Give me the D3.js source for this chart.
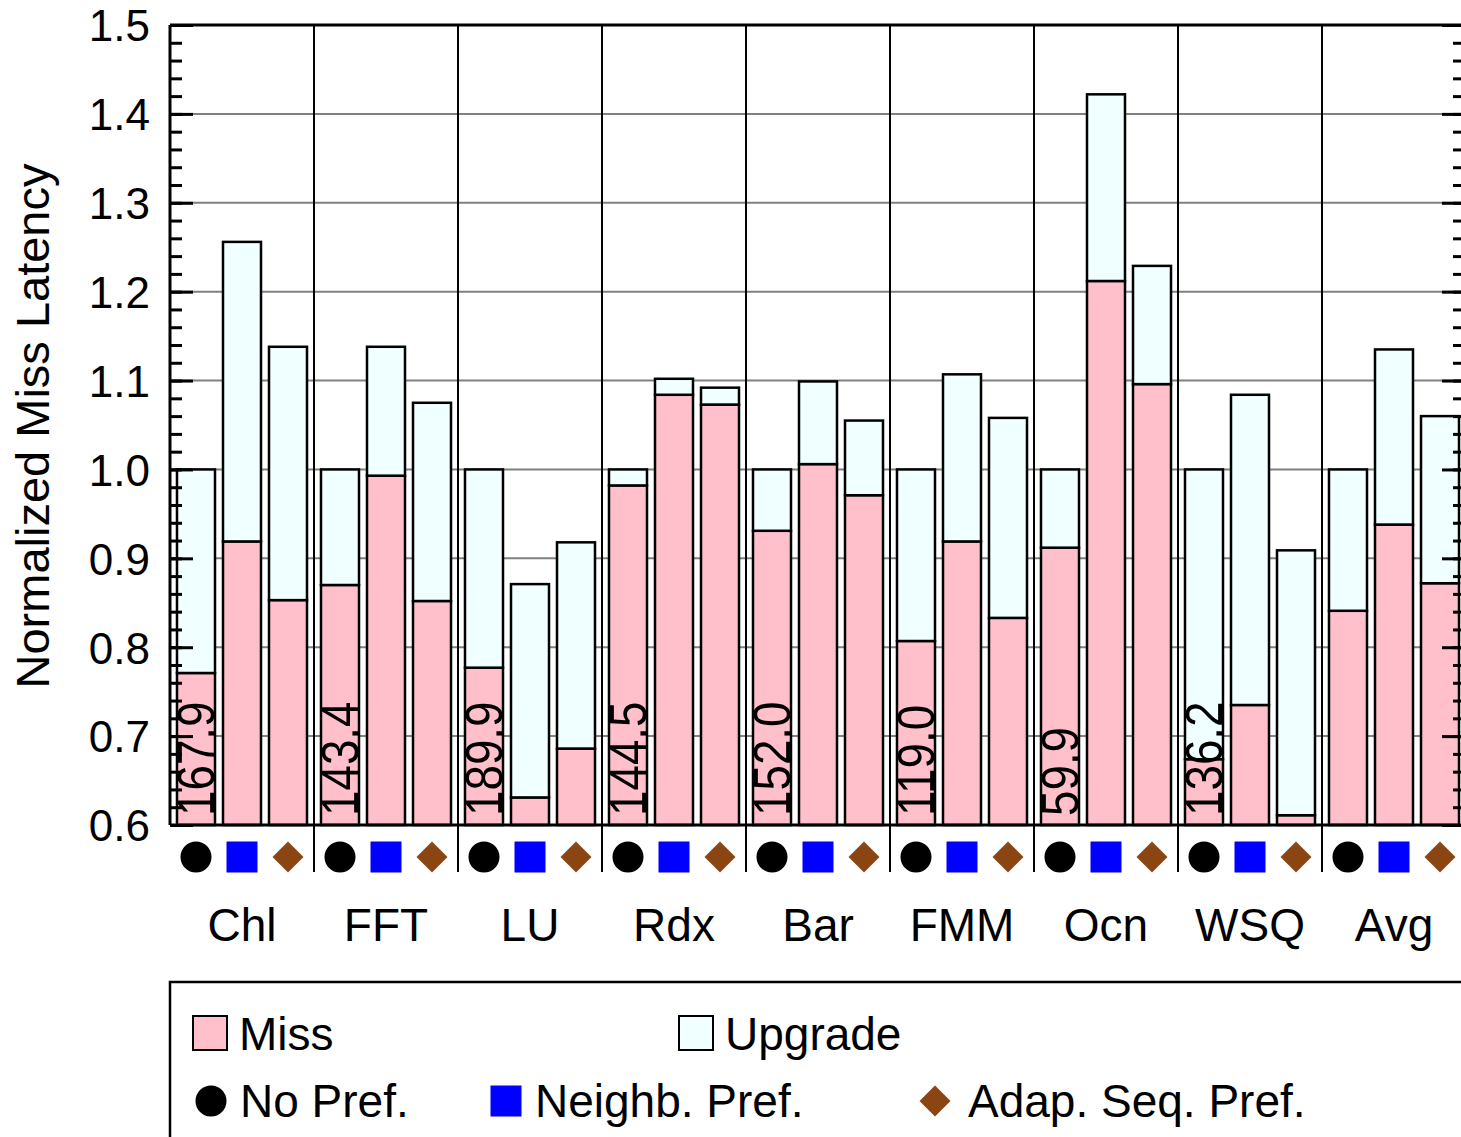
<!DOCTYPE html>
<html>
<head>
<meta charset="utf-8">
<script src="https://cdn.jsdelivr.net/npm/d3@7/dist/d3.min.js"></script>
<style>
  html, body { margin: 0; padding: 0; background: #fff; }
  svg { display: block; }
  text { font-family: "Liberation Sans", Arial, Helvetica, sans-serif; fill: #000; }
</style>
</head>
<body>
<svg id="chart" width="1461" height="1137"></svg>
<script>
// Benchmarks and prefetching schemes
const categories = ["Chl", "FFT", "LU", "Rdx", "Bar", "FMM", "Ocn", "WSQ", "Avg"];
const schemes = ["No Pref.", "Neighb. Pref.", "Adap. Seq. Pref."];

// Miss component (bottom of each stack) and total height (Miss + Upgrade)
const missNoPref  = [0.771, 0.870, 0.777, 0.982, 0.931, 0.807, 0.912, 0.674, 0.841];
const totalNoPref = [1.000, 1.000, 1.000, 1.000, 1.000, 1.000, 1.000, 1.000, 1.000];
const missNeighb  = [0.919, 0.993, 0.631, 1.084, 1.006, 0.919, 1.212, 0.735, 0.938];
const totalNeighb = [1.256, 1.138, 0.871, 1.102, 1.099, 1.107, 1.422, 1.084, 1.135];
const missAdap    = [0.853, 0.852, 0.686, 1.073, 0.971, 0.833, 1.096, 0.611, 0.872];
const totalAdap   = [1.138, 1.075, 0.918, 1.092, 1.055, 1.058, 1.229, 0.909, 1.060];

// Absolute latency (cycles) of the No Pref. configuration
const baseLatency = ["167.9", "143.4", "189.9", "144.5", "152.0", "119.0", "59.9", "136.2", null];

const yMajorTicks = [0.6, 0.7, 0.8, 0.9, 1.0, 1.1, 1.2, 1.3, 1.4, 1.5];
const yMinorTicks = d3.range(0, 46).map(i => 0.6 + i * 0.02);

const components = ["Miss", "Upgrade"];
const compColor = { Miss: "#FFC0CB", Upgrade: "#F0FFFF" };
const markerColor = { "No Pref.": "#000000", "Neighb. Pref.": "#0000FF", "Adap. Seq. Pref.": "#8B4513" };
const markerShape = { "No Pref.": d3.symbolCircle, "Neighb. Pref.": d3.symbolSquare, "Adap. Seq. Pref.": d3.symbolSquare };
const markerRotate = { "No Pref.": 0, "Neighb. Pref.": 0, "Adap. Seq. Pref.": 45 };

const missBy = [missNoPref, missNeighb, missAdap];
const totalBy = [totalNoPref, totalNeighb, totalAdap];

const rows = [];
categories.forEach((c, i) => {
  schemes.forEach((s, j) => {
    rows.push({ cat: c, scheme: s, miss: missBy[j][i], total: totalBy[j][i], label: j === 0 ? baseLatency[i] : null });
  });
});

const svg = d3.select("#chart");
const plotLeft = 170, plotRight = 1466, plotTop = 25, plotBottom = 825;

const x = d3.scaleBand().domain(categories).range([plotLeft, plotRight]).paddingInner(0).paddingOuter(0);
const xs = d3.scaleBand().domain(schemes).range([0, x.bandwidth()])
  .paddingInner(8 / 46).paddingOuter(0.152).align(0.5);
const y = d3.scaleLinear().domain([0.6, 1.5]).range([plotBottom, plotTop]);

function markerSize(s) {
  if (s === "No Pref.") return Math.PI * 15.5 * 15.5;
  if (s === "Neighb. Pref.") return 31 * 31;
  return 2 * 15.5 * 15.5; // square turned 45°, half-diagonal ~15.5
}
function markerPath(s) {
  return d3.symbol().type(markerShape[s]).size(markerSize(s))();
}

// Horizontal gridlines
svg.append("g")
  .selectAll("line")
  .data(yMajorTicks.filter(v => v > 0.6 && v < 1.5))
  .join("line")
  .attr("x1", plotLeft).attr("x2", plotRight)
  .attr("y1", d => y(d)).attr("y2", d => y(d))
  .attr("stroke", "#808080").attr("stroke-width", 2);

// Group separators (extend down through the marker row)
svg.append("g")
  .selectAll("line")
  .data(categories.slice(1))
  .join("line")
  .attr("x1", d => x(d)).attr("x2", d => x(d))
  .attr("y1", plotTop).attr("y2", 872)
  .attr("stroke", "#000").attr("stroke-width", 2);

// Stacked bars
const barG = svg.append("g");
rows.forEach(r => {
  const bx = x(r.cat) + xs(r.scheme);
  const w = xs.bandwidth();
  const stack = [
    { key: "Miss", y0: 0.6, y1: r.miss },
    { key: "Upgrade", y0: r.miss, y1: r.total }
  ];
  stack.forEach(s => {
    barG.append("rect")
      .attr("x", bx).attr("width", w)
      .attr("y", y(s.y1)).attr("height", y(s.y0) - y(s.y1))
      .attr("fill", compColor[s.key])
      .attr("stroke", "#000").attr("stroke-width", 2.5);
  });
});

// Rotated absolute-latency labels inside the first bar of each group
svg.append("g")
  .selectAll("text")
  .data(rows.filter(r => r.label))
  .join("text")
  .attr("transform", r => `translate(${x(r.cat) + xs(r.scheme) + xs.bandwidth() - 1},816) rotate(-90) scale(0.88,1)`)
  .attr("font-size", 52)
  .attr("text-anchor", "start")
  .text(r => r.label);

// Left axis with inward ticks
const yAxisMajor = d3.axisLeft(y).tickValues(yMajorTicks).tickSize(-23).tickPadding(20).tickFormat(d3.format(".1f"));
const yAxisMinor = d3.axisLeft(y).tickValues(yMinorTicks).tickSize(-12).tickFormat("");
const gyMinor = svg.append("g").attr("transform", `translate(${plotLeft},0)`).call(yAxisMinor);
const gy = svg.append("g").attr("transform", `translate(${plotLeft},0)`).call(yAxisMajor);
[gy, gyMinor].forEach(g => {
  g.select(".domain").remove();
  g.selectAll(".tick line").attr("stroke", "#000").attr("stroke-width", 3);
});
gy.selectAll(".tick text")
  .attr("font-size", 44)
  .attr("font-family", "'Liberation Sans', Arial, sans-serif")
  .attr("fill", "#000")
  .attr("dy", "0.36em");

// Right axis, ticks only
const yRightMajor = d3.axisRight(y).tickValues(yMajorTicks).tickSize(-24).tickFormat("");
const yRightMinor = d3.axisRight(y).tickValues(yMinorTicks).tickSize(-13).tickFormat("");
[yRightMinor, yRightMajor].forEach(ax => {
  const g = svg.append("g").attr("transform", `translate(${plotRight},0)`).call(ax);
  g.select(".domain").remove();
  g.selectAll(".tick line").attr("stroke", "#000").attr("stroke-width", 3);
});

// Frame
const frame = svg.append("g").attr("stroke", "#000").attr("stroke-width", 3);
frame.append("line").attr("x1", plotLeft).attr("x2", plotRight).attr("y1", plotTop).attr("y2", plotTop);
frame.append("line").attr("x1", plotLeft).attr("x2", plotRight).attr("y1", plotBottom).attr("y2", plotBottom);
frame.append("line").attr("x1", plotLeft).attr("x2", plotLeft).attr("y1", plotTop).attr("y2", plotBottom);
frame.append("line").attr("x1", plotRight).attr("x2", plotRight).attr("y1", plotTop).attr("y2", plotBottom);

// Scheme markers below each bar
svg.append("g")
  .selectAll("path")
  .data(rows)
  .join("path")
  .attr("transform", r => `translate(${x(r.cat) + xs(r.scheme) + xs.bandwidth() / 2},857) rotate(${markerRotate[r.scheme]})`)
  .attr("d", r => markerPath(r.scheme))
  .attr("fill", r => markerColor[r.scheme]);

// Category labels
svg.append("g")
  .selectAll("text")
  .data(categories)
  .join("text")
  .attr("x", d => x(d) + x.bandwidth() / 2)
  .attr("y", 941)
  .attr("text-anchor", "middle")
  .attr("font-size", 46)
  .text(d => d);

// Y axis title
svg.append("text")
  .attr("transform", "translate(49,426) rotate(-90)")
  .attr("text-anchor", "middle")
  .attr("font-size", 47)
  .text("Normalized Miss Latency");

// Legend
const lg = svg.append("g");
lg.append("rect")
  .attr("x", 170).attr("y", 982).attr("width", 1400).attr("height", 250)
  .attr("fill", "none").attr("stroke", "#000").attr("stroke-width", 2.5);

const compLegendX = [193, 679];
components.forEach((c, i) => {
  lg.append("rect")
    .attr("x", compLegendX[i]).attr("y", 1016).attr("width", 34).attr("height", 34)
    .attr("fill", compColor[c]).attr("stroke", "#000").attr("stroke-width", 2);
  lg.append("text")
    .attr("x", compLegendX[i] + 46).attr("y", 1050)
    .attr("font-size", 46)
    .text(c);
});

const schemeLegendX = [211, 506, 935];
const schemeTextX = [240, 535, 968];
schemes.forEach((s, i) => {
  lg.append("path")
    .attr("transform", `translate(${schemeLegendX[i]},1101) rotate(${markerRotate[s]})`)
    .attr("d", markerPath(s))
    .attr("fill", markerColor[s]);
  lg.append("text")
    .attr("x", schemeTextX[i]).attr("y", 1117)
    .attr("font-size", 46)
    .text(s);
});
</script>
</body>
</html>
